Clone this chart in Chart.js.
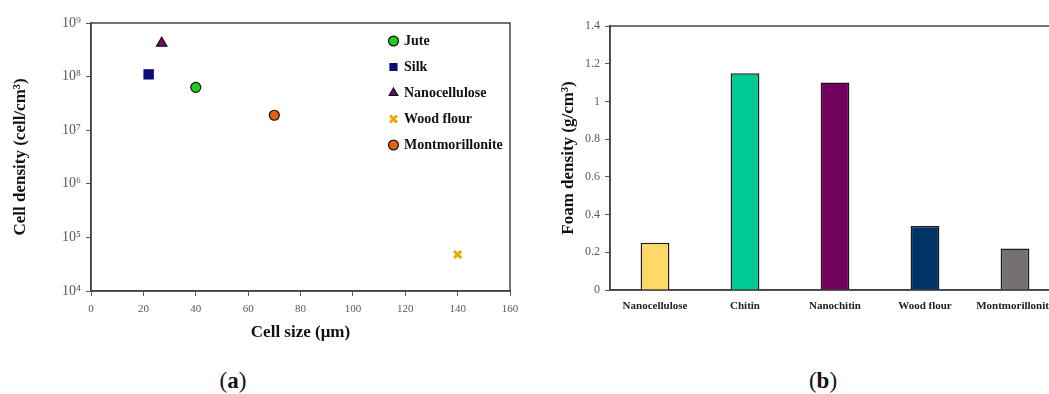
<!DOCTYPE html>
<html>
<head>
<meta charset="utf-8">
<script src="https://cdn.jsdelivr.net/npm/chart.js@4.4.1/dist/chart.umd.min.js"></script>
<style>
    html, body { margin: 0; padding: 0; background: #fff; overflow: hidden; width: 1049px; height: 394px; }
    #wrap-a { position: absolute; left: 0; top: 0; }
    #wrap-b { position: absolute; left: 530px; top: 0; }
    .panel-label { position: absolute; top: 368px; font-family: "Liberation Serif", serif; font-size: 23px; color: #111; transform: translateX(-50%); }
</style>
</head>
<body>
<div id="wrap-a"><canvas id="cellChart" width="530" height="346"></canvas></div>
<div id="wrap-b"><canvas id="foamChart" width="545" height="346"></canvas></div>
<div class="panel-label" style="left:233px">(<b>a</b>)</div>
<div class="panel-label" style="left:823px">(<b>b</b>)</div>
<script>
// (a) Taille de cellule vs densité de cellules
const fillers = ['Jute', 'Silk', 'Nanocellulose', 'Wood flour', 'Montmorillonite'];
const cellSize = [40, 22, 27, 140, 70];
const cellDensity = [6.3e7, 1.1e8, 4.2e8, 4.8e4, 1.9e7];
const sizeTicks = [0, 20, 40, 60, 80, 100, 120, 140, 160];
const densityTicks = [1e4, 1e5, 1e6, 1e7, 1e8, 1e9];
const densityTickLabels = ['10⁴', '10⁵', '10⁶', '10⁷', '10⁸', '10⁹'];

// (b) Densité de mousse par charge
const foamCategories = ['Nanocellulose', 'Chitin', 'Nanochitin', 'Wood flour', 'Montmorillonite'];
const foamDensity = [0.25, 1.15, 1.10, 0.34, 0.22];
const foamTicks = [0, 0.2, 0.4, 0.6, 0.8, 1.0, 1.2, 1.4];

// Styles
const markerStyles = ['circle', 'rect', 'triangle', 'crossRot', 'circle'];
const markerColors = ['#22CC22', '#0B0B7E', '#7A0A6C', '#F5B800', '#E2620F'];
const markerBorders = ['#111', '#0B0B7E', '#111', '#E8A800', '#111'];
const markerRadius = [5, 6.5, 6, 5, 5];
const barColors = ['#FFD966', '#00C896', '#72005E', '#003366', '#767171'];

const SERIF = '"Liberation Serif", "DejaVu Serif", serif';
const AXIS_GREY = '#595959';

// cadre autour de la zone de tracé
const frameBox = {
    id: 'frameBox',
    beforeDatasetsDraw(chart, args, opts) {
        const { ctx, chartArea: a } = chart;
        ctx.save();
        ctx.strokeStyle = opts.color;
        ctx.lineWidth = opts.width;
        ctx.strokeRect(a.left, a.top, a.width, a.height);
        ctx.restore();
    }
};

// légende placée dans la zone de tracé, en haut à droite
const legendInside = {
    id: 'legendInside',
    afterLayout(chart, args, opts) {
        const lg = chart.legend;
        if (!lg) return;
        lg.left = chart.chartArea.left + opts.dx;
        lg.top = chart.chartArea.top + opts.dy;
    }
};

Chart.defaults.font.family = SERIF;
Chart.defaults.animation = false;

function initCellChart() {
    const ctx = document.getElementById('cellChart').getContext('2d');
    const datasets = fillers.map((name, i) => ({
        label: name,
        data: [{ x: cellSize[i], y: cellDensity[i] }],
        pointStyle: markerStyles[i],
        backgroundColor: markerColors[i],
        borderColor: markerBorders[i],
        borderWidth: markerStyles[i] === 'crossRot' ? 3 : 1.2,
        pointRadius: markerRadius[i]
    }));

    new Chart(ctx, {
        type: 'scatter',
        data: { datasets },
        options: {
            responsive: false,
            layout: { padding: { top: 23, right: 20, left: 0, bottom: 0 } },
            scales: {
                x: {
                    type: 'linear', min: 0, max: 160,
                    afterBuildTicks: s => { s.ticks = sizeTicks.map(v => ({ value: v })); },
                    afterFit: s => { s.height = 55; },
                    grid: { drawOnChartArea: false, tickLength: 5, color: AXIS_GREY },
                    border: { color: '#444', width: 1.5 },
                    ticks: { font: { size: 11 }, color: AXIS_GREY, padding: 7, maxRotation: 0 },
                    title: {
                        display: true, text: 'Cell size (μm)', color: '#111',
                        font: { size: 17, weight: 'bold' }, padding: { top: 0, bottom: 3 }
                    }
                },
                y: {
                    type: 'logarithmic', min: 1e4, max: 1e9,
                    afterBuildTicks: s => { s.ticks = densityTicks.map(v => ({ value: v })); },
                    afterFit: s => { s.width = 91; },
                    grid: { drawOnChartArea: false, tickLength: 5, color: AXIS_GREY },
                    border: { color: '#444', width: 1.5 },
                    ticks: {
                        font: { size: 14 }, color: AXIS_GREY, padding: 5,
                        callback: v => densityTickLabels[Math.round(Math.log10(v)) - 4]
                    },
                    title: {
                        display: true, text: 'Cell density (cell/cm³)', color: '#111',
                        font: { size: 17, weight: 'bold' }, padding: { top: 10, bottom: 0 }
                    }
                }
            },
            plugins: {
                frameBox: { color: '#444', width: 1.5 },
                legendInside: { dx: 287, dy: -1 },
                legend: {
                    position: 'chartArea',
                    align: 'start',
                    labels: {
                        usePointStyle: true, boxHeight: 7, boxWidth: 7, padding: 12,
                        color: '#111', font: { size: 14, weight: 'bold' }
                    }
                },
                tooltip: { enabled: false }
            }
        },
        plugins: [frameBox, legendInside]
    });
}

function initFoamChart() {
    const ctx = document.getElementById('foamChart').getContext('2d');
    new Chart(ctx, {
        type: 'bar',
        data: {
            labels: foamCategories,
            datasets: [{
                data: foamDensity,
                backgroundColor: barColors,
                borderColor: '#1a1a1a',
                borderWidth: 1.5,
                barPercentage: 0.32,
                categoryPercentage: 1
            }]
        },
        options: {
            responsive: false,
            layout: { padding: { top: 26, right: 15, left: 0, bottom: 0 } },
            scales: {
                x: {
                    afterFit: s => { s.height = 56; },
                    grid: { display: false },
                    border: { color: '#333', width: 1.5 },
                    ticks: { font: { size: 11, weight: 'bold' }, color: '#222', padding: 2, maxRotation: 0 }
                },
                y: {
                    min: 0, max: 1.4,
                    afterBuildTicks: s => { s.ticks = foamTicks.map(v => ({ value: v })); },
                    afterFit: s => { s.width = 80; },
                    grid: { drawOnChartArea: false, tickLength: 5, color: AXIS_GREY },
                    border: { color: '#333', width: 1.5 },
                    ticks: { font: { size: 12 }, color: AXIS_GREY, padding: 5, callback: v => String(+v.toFixed(1)) },
                    title: {
                        display: true, text: 'Foam density (g/cm³)', color: '#111',
                        font: { size: 17, weight: 'bold' }, padding: { top: 28, bottom: 0 }
                    }
                }
            },
            plugins: {
                frameBox: { color: '#444', width: 1.5 },
                legend: { display: false },
                tooltip: { enabled: false }
            }
        },
        plugins: [frameBox]
    });
}

document.addEventListener('DOMContentLoaded', () => {
    initCellChart();
    initFoamChart();
});
</script>
</body>
</html>
